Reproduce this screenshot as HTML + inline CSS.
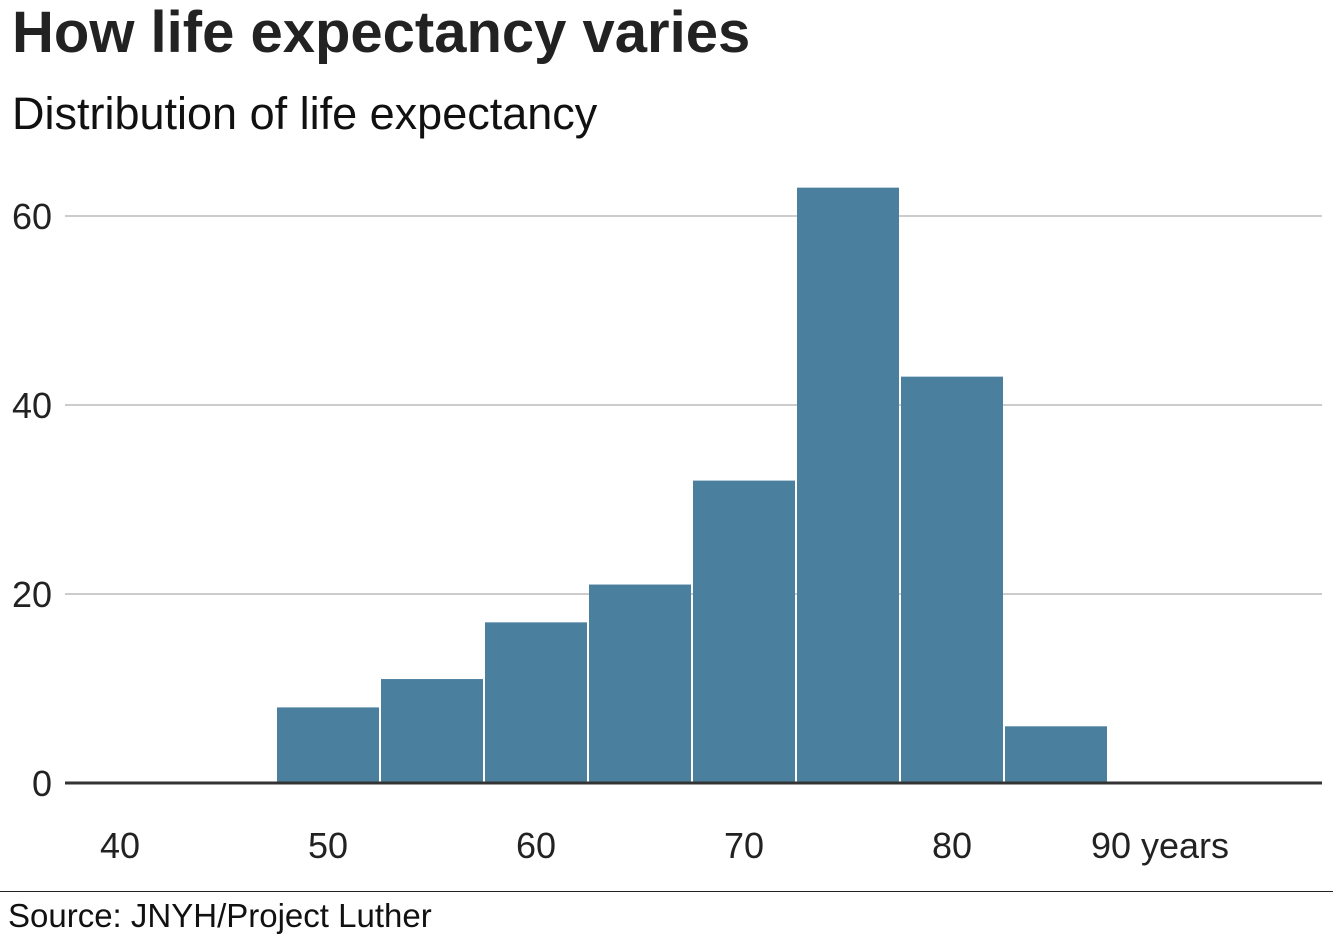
<!DOCTYPE html>
<html><head><meta charset="utf-8">
<style>
html,body{margin:0;padding:0;background:#fff;}
body{width:1333px;height:937px;overflow:hidden;position:relative;font-family:"Liberation Sans",Arial,sans-serif;}
#title{position:absolute;left:12px;top:0px;font-size:58px;font-weight:bold;color:#222;margin:0;line-height:1.15;}
#subtitle{position:absolute;left:12px;top:88px;font-size:45px;color:#111;margin:0;line-height:1.15;}
#source{position:absolute;left:8px;top:897px;font-size:33px;color:#111;line-height:1.15;}
#rule{position:absolute;left:0;top:891px;width:1333px;height:1px;background:#222;}
svg{position:absolute;left:0;top:0;}
</style></head><body>
<div id="title">How life expectancy varies</div>
<div id="subtitle">Distribution of life expectancy</div>
<svg id="chart" width="1333" height="937"></svg>
<div id="rule"></div>
<div id="source">Source: JNYH/Project Luther</div>
<script>
const binStarts = [47.5, 52.5, 57.5, 62.5, 67.5, 72.5, 77.5, 82.5];
const binWidth = 5;
const counts = [8, 11, 17, 21, 32, 63, 43, 6];
const yTicks = [0, 20, 40, 60];
const xTicks = [40, 50, 60, 70, 80, 90];
const xTickLabels = ["40", "50", "60", "70", "80", "90 years"];

const NS = "http://www.w3.org/2000/svg";
const svg = document.getElementById("chart");
const x = v => 120 + (v - 40) * 20.8;
const y = v => 783 - v * 9.45;
function mk(tag, attrs){const e=document.createElementNS(NS,tag);for(const k in attrs)e.setAttribute(k,attrs[k]);svg.appendChild(e);return e;}

yTicks.forEach(t=>{
  if(t!==0){
    const g=mk("line",{x1:65,x2:1322,y1:y(t),y2:y(t),stroke:"#cccccc","stroke-width":2});
    
    
  }
  const l=mk("text",{x:52,y:y(t)+13,"text-anchor":"end","font-size":36,fill:"#222"});
  l.textContent=t;
  
  
});

binStarts.forEach((b,i)=>{
  const r=mk("rect",{x:x(b)+1,y:y(counts[i]),width:x(b+binWidth)-x(b)-2,height:y(0)-y(counts[i]),fill:"#4a7f9e"});
  
  
});

const base=mk("line",{x1:65,x2:1322,y1:y(0),y2:y(0),stroke:"#333","stroke-width":3});



xTicks.forEach((t,i)=>{
  const l=mk("text",{x:x(t),y:858,"text-anchor":"middle","font-size":36,fill:"#222"});
  l.textContent=xTickLabels[i];
  
  
});
</script>
</body></html>
